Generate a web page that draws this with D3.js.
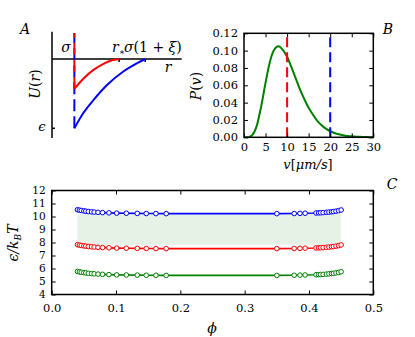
<!DOCTYPE html>
<html>
<head>
<meta charset="utf-8">
<script src="https://cdn.jsdelivr.net/npm/d3@7"></script>
<style>
  body { margin: 0; background: #fff; }
  svg text { font-family: "DejaVu Serif", serif; fill: #000; }
  .tick text { font-family: "DejaVu Serif", serif; font-size: 11.5px; }
  .math { font-style: italic; }
</style>
</head>
<body>
<svg id="chart" width="415" height="337"></svg>
<script>
// panel A: sketch of the potential U(r), sigma = 1
const rSigma = 1, rStar = 3.0, rXi = 4.17;
const redR = [1, 1.4, 1.84, 2.28, 2.68, 3.0];
const redU = [-0.43, -0.284, -0.161, -0.073, -0.019, 0];
const blueR = [1, 1.4, 1.86, 2.46, 3.19, 3.79, 4.17];
const blueU = [-1, -0.78, -0.59, -0.375, -0.18, -0.0625, 0];

// panel B: speed distribution P(v)
const vValues = [0, 1, 1.5, 2, 3, 4, 5, 6, 7, 8, 9, 10, 11, 12, 13, 14, 15, 16, 17, 18, 19, 20, 21, 22, 23, 24, 25, 26, 27, 28, 29, 30];
const pValues = [0, 0, 0.001, 0.003, 0.014, 0.036, 0.063, 0.087, 0.101, 0.105, 0.101, 0.093, 0.081, 0.068, 0.055, 0.044, 0.034, 0.026, 0.019, 0.014, 0.010, 0.007, 0.005, 0.0035, 0.0024, 0.0016, 0.0011, 0.0007, 0.0005, 0.0003, 0.0002, 0.0001];
const vRed = 10, vBlue = 20;
const bTicksX = [0, 5, 10, 15, 20, 25, 30];
const bTicksY = [0, 0.02, 0.04, 0.06, 0.08, 0.10, 0.12];

// panel C: eps/kBT vs phi
const phi = [0.040, 0.043, 0.046, 0.050, 0.053, 0.057, 0.062, 0.066, 0.072, 0.079, 0.089, 0.101, 0.116, 0.133, 0.147, 0.162, 0.178,
             0.350, 0.377, 0.386, 0.394, 0.411, 0.415, 0.418, 0.422, 0.427, 0.431, 0.435, 0.438, 0.442, 0.446, 0.450];
const epsBlue = [10.52, 10.49, 10.46, 10.43, 10.41, 10.38, 10.36, 10.34, 10.32, 10.30, 10.28, 10.26, 10.25, 10.24, 10.23, 10.225, 10.22,
                 10.22, 10.23, 10.24, 10.25, 10.27, 10.28, 10.29, 10.30, 10.32, 10.34, 10.36, 10.38, 10.41, 10.45, 10.50];
const epsRed = [7.83, 7.80, 7.77, 7.74, 7.72, 7.69, 7.67, 7.65, 7.63, 7.61, 7.59, 7.57, 7.56, 7.55, 7.54, 7.535, 7.53,
                7.53, 7.54, 7.55, 7.56, 7.58, 7.59, 7.60, 7.61, 7.63, 7.65, 7.67, 7.69, 7.72, 7.76, 7.81];
const epsGreen = [5.77, 5.74, 5.71, 5.68, 5.66, 5.63, 5.61, 5.59, 5.57, 5.55, 5.53, 5.51, 5.50, 5.49, 5.48, 5.475, 5.47,
                  5.47, 5.48, 5.49, 5.50, 5.52, 5.53, 5.54, 5.55, 5.57, 5.59, 5.61, 5.63, 5.66, 5.70, 5.75];
const cTicksX = [0, 0.1, 0.2, 0.3, 0.4, 0.5];
const cTicksY = [4, 5, 6, 7, 8, 9, 10, 11, 12];

const svg = d3.select('#chart');

function boxAxes(g, x, y, xt, yt, xfmt, yfmt, xpad = 6) {
  const [x0, x1] = x.range();
  const [y0, y1] = y.range();
  g.append('g').attr('transform', `translate(0,${y0})`)
    .call(d3.axisBottom(x).tickValues(xt).tickFormat(xfmt).tickSize(-4).tickPadding(xpad));
  g.append('g').attr('transform', `translate(0,${y1})`)
    .call(d3.axisTop(x).tickValues(xt).tickFormat('').tickSize(-4));
  const yAxis = g.append('g').attr('transform', `translate(${x0},0)`)
    .call(d3.axisLeft(y).tickValues(yt).tickFormat(yfmt).tickSize(-4).tickPadding(6));
  g.append('g').attr('transform', `translate(${x1},0)`)
    .call(d3.axisRight(y).tickValues(yt).tickFormat('').tickSize(-4));
  g.selectAll('.domain').remove();
  g.selectAll('.tick line').attr('stroke', '#000').attr('stroke-width', 1);
  g.append('rect')
    .attr('x', x0).attr('y', y1)
    .attr('width', x1 - x0).attr('height', y0 - y1)
    .attr('fill', 'none').attr('stroke', '#000').attr('stroke-width', 1.5);
  return yAxis;
}

// ---------- panel A ----------
const xA = d3.scaleLinear().domain([0, 5.8]).range([52, 181.7]);
const yA = d3.scaleLinear().domain([-1, 0]).range([128.3, 59]);
const gA = svg.append('g');

gA.append('line').attr('x1', xA(0)).attr('x2', xA(0)).attr('y1', 31.7).attr('y2', 138)
  .attr('stroke', '#000').attr('stroke-width', 1.5);
gA.append('line').attr('x1', xA(0)).attr('x2', xA(5.8)).attr('y1', yA(0)).attr('y2', yA(0))
  .attr('stroke', '#000').attr('stroke-width', 1.5);
[rStar, rXi].forEach(r => {
  gA.append('line').attr('x1', xA(r)).attr('x2', xA(r)).attr('y1', yA(0)).attr('y2', yA(0) + 3)
    .attr('stroke', '#000').attr('stroke-width', 1.5);
});
gA.append('line').attr('x1', xA(0)).attr('x2', xA(0) + 3).attr('y1', yA(-1)).attr('y2', yA(-1))
  .attr('stroke', '#000').attr('stroke-width', 1.5);

gA.append('line').attr('x1', xA(rSigma)).attr('x2', xA(rSigma)).attr('y1', yA(-1)).attr('y2', 33)
  .attr('stroke', 'blue').attr('stroke-width', 2).attr('stroke-dasharray', '12,5');
gA.append('line').attr('x1', xA(rSigma)).attr('x2', xA(rSigma)).attr('y1', yA(redU[0])).attr('y2', 33)
  .attr('stroke', 'red').attr('stroke-width', 2).attr('stroke-dasharray', '12,5');

const lineA = d3.line().x(d => xA(d[0])).y(d => yA(d[1])).curve(d3.curveMonotoneX);
gA.append('path').attr('d', lineA(d3.zip(redR, redU)))
  .attr('fill', 'none').attr('stroke', 'red').attr('stroke-width', 2);
gA.append('path').attr('d', lineA(d3.zip(blueR, blueU)))
  .attr('fill', 'none').attr('stroke', 'blue').attr('stroke-width', 2);

gA.append('text').attr('class', 'math').attr('x', 66).attr('y', 52).attr('font-size', 14)
  .attr('text-anchor', 'middle').text('σ');
const rs = gA.append('text').attr('class', 'math').attr('x', 112).attr('y', 52).attr('font-size', 14);
rs.append('tspan').text('r');
rs.append('tspan').attr('font-size', 9).attr('dy', 3).text('∗');
const sx = gA.append('text').attr('x', 124).attr('y', 52).attr('font-size', 14);
sx.append('tspan').attr('class', 'math').text('σ');
sx.append('tspan').text('(1 + ');
sx.append('tspan').attr('class', 'math').text('ξ');
sx.append('tspan').text(')');
gA.append('text').attr('class', 'math').attr('x', 168).attr('y', 72).attr('font-size', 14)
  .attr('text-anchor', 'middle').text('r');
gA.append('text').attr('class', 'math').attr('x', 42).attr('y', 131).attr('font-size', 13)
  .attr('text-anchor', 'middle').text('ϵ');
const ul = gA.append('text').attr('transform', 'translate(40,84) rotate(-90)')
  .attr('text-anchor', 'middle').attr('font-size', 14);
ul.append('tspan').attr('class', 'math').text('U');
ul.append('tspan').text('(');
ul.append('tspan').attr('class', 'math').text('r');
ul.append('tspan').text(')');
gA.append('text').attr('class', 'math').attr('x', 25).attr('y', 34).attr('font-size', 14)
  .attr('text-anchor', 'middle').text('A');

// ---------- panel B ----------
const xB = d3.scaleLinear().domain([0, 30]).range([244, 373.3]);
const yB = d3.scaleLinear().domain([0, 0.12]).range([137.3, 33.3]);
const gB = svg.append('g');

gB.append('path').attr('d', d3.line().x(d => xB(d[0])).y(d => yB(d[1])).curve(d3.curveMonotoneX)(d3.zip(vValues, pValues)))
  .attr('fill', 'none').attr('stroke', 'green').attr('stroke-width', 2);
[[vRed, 'red'], [vBlue, 'blue']].forEach(([v, c]) => {
  gB.append('line').attr('x1', xB(v)).attr('x2', xB(v)).attr('y1', yB(0)).attr('y2', yB(0.12))
    .attr('stroke', c).attr('stroke-width', 2).attr('stroke-dasharray', '10,5');
});
boxAxes(gB, xB, yB, bTicksX, bTicksY, d3.format('d'), d3.format('.2f'));

const pl = gB.append('text').attr('transform', 'translate(201,86) rotate(-90)')
  .attr('text-anchor', 'middle').attr('font-size', 14);
pl.append('tspan').attr('class', 'math').text('P');
pl.append('tspan').text('(');
pl.append('tspan').attr('class', 'math').text('v');
pl.append('tspan').text(')');
const vl = gB.append('text').attr('x', 308).attr('y', 169).attr('font-size', 13).attr('text-anchor', 'middle');
vl.append('tspan').attr('class', 'math').text('v');
vl.append('tspan').text('[');
vl.append('tspan').attr('class', 'math').text('μm/s');
vl.append('tspan').text(']');
gB.append('text').attr('class', 'math').attr('x', 388).attr('y', 34).attr('font-size', 14)
  .attr('text-anchor', 'middle').text('B');

// ---------- panel C ----------
const xC = d3.scaleLinear().domain([0, 0.5]).range([51.7, 373.3]);
const yC = d3.scaleLinear().domain([4, 12]).range([294.5, 190.5]);
const gC = svg.append('g');

const fillLo = d3.max(epsRed), fillHi = d3.min(epsBlue);
gC.append('path')
  .attr('d', d3.area().x(d => xC(d)).y0(yC(fillLo)).y1(yC(fillHi))(d3.extent(phi)))
  .attr('fill', 'green').attr('fill-opacity', 0.1);

[[epsBlue, 'blue'], [epsRed, 'red'], [epsGreen, 'green']].forEach(([vals, c]) => {
  const pts = d3.zip(phi, vals);
  gC.append('path').attr('d', d3.line().x(d => xC(d[0])).y(d => yC(d[1]))(pts))
    .attr('fill', 'none').attr('stroke', c).attr('stroke-width', 1.6);
  gC.selectAll(null).data(pts).join('circle')
    .attr('cx', d => xC(d[0])).attr('cy', d => yC(d[1])).attr('r', 2.3)
    .attr('fill', '#fff').attr('stroke', c).attr('stroke-width', 1);
});
const yAxisC = boxAxes(gC, xC, yC, cTicksX, cTicksY, d3.format('.1f'), d3.format('d'), 9);
// y labels are only 13px apart here, keep them a touch smaller
yAxisC.selectAll('.tick text').style('font-size', '10.5px');

const el = gC.append('text').attr('transform', 'translate(18,243) rotate(-90)')
  .attr('text-anchor', 'middle').attr('font-size', 14);
el.append('tspan').attr('class', 'math').text('ϵ/k');
el.append('tspan').attr('class', 'math').attr('font-size', 9).attr('dy', 3).text('B');
el.append('tspan').attr('class', 'math').attr('dy', -3).text('T');
gC.append('text').attr('class', 'math').attr('x', 212).attr('y', 333).attr('font-size', 14)
  .attr('text-anchor', 'middle').text('ϕ');
gC.append('text').attr('class', 'math').attr('x', 392).attr('y', 189).attr('font-size', 14)
  .attr('text-anchor', 'middle').text('C');
</script>
</body>
</html>
